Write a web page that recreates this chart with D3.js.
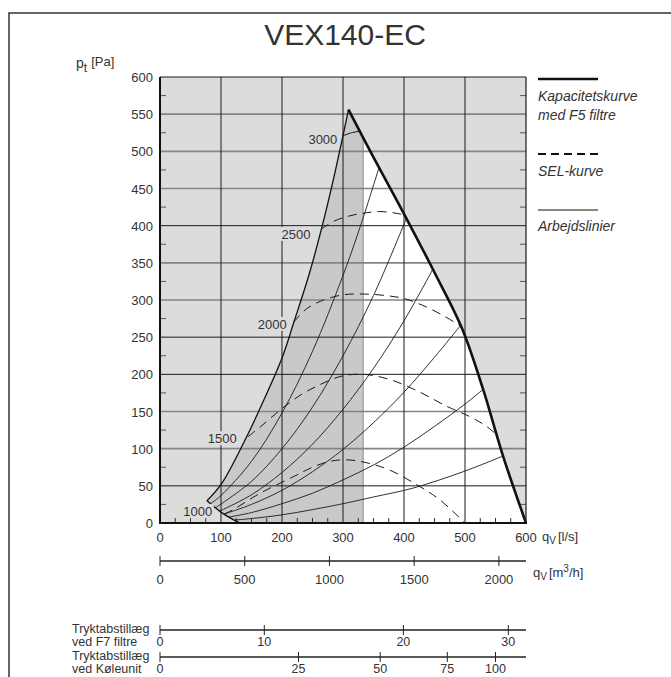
<!DOCTYPE html>
<html><head><meta charset="utf-8">
<script src="https://cdn.jsdelivr.net/npm/d3@7"></script>
<style>
body{margin:0;background:#fff}
svg{display:block}
text{font-family:"Liberation Sans",Arial,Helvetica,sans-serif;fill:#333}
</style>
</head><body>
<svg id="c" width="671" height="677"></svg>
<script>
// ---------- DATA ----------
const title = "VEX140-EC";
const flowTicks = [0, 100, 200, 300, 400, 500, 600];            // l/s
const pressureTicks = [0, 50, 100, 150, 200, 250, 300, 350, 400, 450, 500, 550, 600]; // Pa
const m3hTicks = [0, 500, 1000, 1500, 2000];                      // m3/h
const f7Labels = [0, 10, 20, 30];                                 // Pa extra
const f7Flow = [0, 171, 399, 571];                                // l/s where reached
const koelLabels = [0, 25, 50, 75, 100];
const koelFlow = [0, 227, 361, 471, 550];
const speedLabels = ["1000", "1500", "2000", "2500", "3000"];
const speedLabelAt = [[62, 16], [102, 114], [184, 268], [223, 389], [267, 517]]; // (l/s, Pa)
const shadeLimit = 333; // l/s

// capacity curve with F5 filters (bold)
const capacityCurve = [[309,556],[350,492],[400,416],[450,337],[495,262],[530,179],[562,91],[600,0]];
// left envelope (max pressure limit)
const envelope = [[77,30],[101,53],[142,116],[170,165],[201,224],[219,269],[245,336],[267,403],[285,465],[300,521],[309,556]];
// 1000 rpm curve
const minSpeedCurve = [[77,30],[90,21],[101,14],[115,7],[131,0]];
// 3000 rpm arc
const maxSpeedArc = [[300,521],[314,525],[328,527]];
// SEL curves (dashed)
const sel1 = [[264,395],[285,406],[310,413],[335,417],[360,419],[385,417],[403,414]];
const sel2 = [[219,270],[240,288],[265,299],[300,307],[335,308],[370,306],[400,302],[430,293],[460,281],[493,265]];
const sel3 = [[144,116],[164,129],[197,152],[230,172],[257,184],[295,197],[333,200],[377,193],[426,176],[470,157],[503,145],[530,133],[552,119]];
const sel4 = [[105,12],[120,18],[164,40],[218,62],[250,75],[279,83],[306,85],[339,81],[377,71],[426,49],[459,31],[500,0]];
// working lines (Arbejdslinier)
const wl1 = [[83,26],[100,37],[150,83],[200,148],[250,231],[300,333],[330,403],[359,478]];
const wl2 = [[92,21],[150,56],[200,100],[250,156],[300,225],[350,306],[404,410]];
const wl3 = [[98,16],[150,38],[200,68],[250,106],[300,153],[350,208],[400,272],[447,341]];
const wl4 = [[105,12],[150,25],[200,44],[250,69],[300,99],[350,135],[400,176],[450,223],[493,266]];
const wl5 = [[113,8],[150,14],[200,26],[250,40],[300,58],[350,78],[400,102],[450,130],[500,160],[530,180]];
const wl6 = [[122,4],[150,6],[200,11],[250,18],[306,27],[350,35],[415,47],[497,69],[562,90]];
const legendLabels = [["Kapacitetskurve","med F5 filtre"],["SEL-kurve"],["Arbejdslinier"]];

// ---------- DRAW ----------
const svg = d3.select("#c");
const x = d3.scaleLinear().domain([0, 600]).range([160, 526]);
const y = d3.scaleLinear().domain([0, 600]).range([523, 77]);
const xm = d3.scaleLinear().domain([0, 600 * 3.6]).range([160, 526]);
const grayGrid = new Set([550, 500, 450, 350, 300, 150, 100]);

const line = d3.line().x(d => x(d[0])).y(d => y(d[1])).curve(d3.curveCatmullRom.alpha(0.5));

// outer frame
svg.append("path").attr("d", "M9,677V13H671").attr("fill", "none").attr("stroke", "#333").attr("stroke-width", 1.5);

// title
svg.append("text").attr("x", 345).attr("y", 45).attr("text-anchor", "middle")
  .style("font-size", "30px").style("fill", "#333").text(title);

// plot background
svg.append("rect").attr("x", x(0)).attr("y", y(600)).attr("width", x(600) - x(0)).attr("height", y(0) - y(600))
  .attr("fill", "#dcdcdd");

// operating region
const region = line(envelope) + line(capacityCurve).replace("M", "L") +
  `L${x(600)},${y(0)}L${x(minSpeedCurve[minSpeedCurve.length - 1][0])},${y(0)}` +
  line(minSpeedCurve.slice().reverse()).replace("M", "L") + "Z";
svg.append("clipPath").attr("id", "reg").append("path").attr("d", region);
svg.append("path").attr("d", region).attr("fill", "#fff");
svg.append("rect").attr("clip-path", "url(#reg)")
  .attr("x", x(0)).attr("y", y(600)).attr("width", x(shadeLimit) - x(0)).attr("height", y(0) - y(600))
  .attr("fill", "#c9c9ca");
svg.append("line").attr("clip-path", "url(#reg)")
  .attr("x1", x(shadeLimit)).attr("x2", x(shadeLimit)).attr("y1", y(0)).attr("y2", y(600))
  .attr("stroke", "#888").attr("stroke-width", 1);

// grid
const grid = svg.append("g");
pressureTicks.filter(p => p > 0 && p < 600).forEach(p => {
  const g = grayGrid.has(p);
  grid.append("line").attr("x1", x(0)).attr("x2", x(600)).attr("y1", y(p)).attr("y2", y(p))
    .attr("stroke", g ? "#858585" : "#1a1a1a").attr("stroke-width", g ? 1.7 : 1);
});
flowTicks.filter(q => q > 0 && q < 600).forEach(q => {
  grid.append("line").attr("x1", x(q)).attr("x2", x(q)).attr("y1", y(0)).attr("y2", y(600))
    .attr("stroke", "#1a1a1a").attr("stroke-width", 1);
});
// minor ticks
d3.range(25, 600, 50).forEach(p => {
  grid.append("line").attr("x1", x(0)).attr("x2", x(0) + 6).attr("y1", y(p)).attr("y2", y(p)).attr("stroke", "#555");
  grid.append("line").attr("x1", x(600)).attr("x2", x(600) - 6).attr("y1", y(p)).attr("y2", y(p)).attr("stroke", "#555");
});
d3.range(25, 600, 25).filter(q => q % 100 !== 0).forEach(q => {
  grid.append("line").attr("x1", x(q)).attr("x2", x(q)).attr("y1", y(0)).attr("y2", y(0) - 5).attr("stroke", "#333");
});

// curves
const curves = svg.append("g").attr("fill", "none");
[wl1, wl2, wl3, wl4, wl5, wl6].forEach(w =>
  curves.append("path").attr("d", line(w)).attr("stroke", "#1a1a1a").attr("stroke-width", 0.9));
[sel1, sel2, sel3, sel4].forEach(s =>
  curves.append("path").attr("d", line(s)).attr("stroke", "#1a1a1a").attr("stroke-width", 1).attr("stroke-dasharray", "9,6"));
curves.append("path").attr("d", line(envelope)).attr("stroke", "#111").attr("stroke-width", 1.3);
curves.append("path").attr("d", line(minSpeedCurve)).attr("stroke", "#111").attr("stroke-width", 1.4);
curves.append("path").attr("d", line(maxSpeedArc)).attr("stroke", "#111").attr("stroke-width", 1);
curves.append("path").attr("d", line(capacityCurve)).attr("stroke", "#111").attr("stroke-width", 2.6);

// speed labels
speedLabels.forEach((s, i) => {
  const cx = x(speedLabelAt[i][0]), cy = y(speedLabelAt[i][1]);
  svg.append("rect").attr("x", cx - 16).attr("y", cy - 7).attr("width", 32).attr("height", 14).attr("fill", "#dcdcdd");
  svg.append("text").attr("x", cx).attr("y", cy + 5).attr("text-anchor", "middle").style("font-size", "13px").text(s);
});

// frame of plot
svg.append("line").attr("x1", x(0)).attr("x2", x(600)).attr("y1", y(600)).attr("y2", y(600)).attr("stroke", "#1a1a1a").attr("stroke-width", 1);
svg.append("line").attr("x1", x(600)).attr("x2", x(600)).attr("y1", y(600)).attr("y2", y(0)).attr("stroke", "#1a1a1a").attr("stroke-width", 1.2);
svg.append("line").attr("x1", x(0)).attr("x2", x(0)).attr("y1", y(600)).attr("y2", y(0) + 1).attr("stroke", "#111").attr("stroke-width", 2);
svg.append("line").attr("x1", x(0) - 1).attr("x2", x(600) + 1).attr("y1", y(0)).attr("y2", y(0)).attr("stroke", "#111").attr("stroke-width", 2);

// y tick labels
pressureTicks.forEach(p => {
  svg.append("text").attr("x", 153).attr("y", y(p) + 5).attr("text-anchor", "end").style("font-size", "13px").text(p);
});
// y axis title
const yt = svg.append("text").attr("x", 76).attr("y", 68).style("font-size", "14px");
yt.append("tspan").text("p");
yt.append("tspan").attr("dy", 4).style("font-size", "12px").text("t");
yt.append("tspan").attr("dx", 4).attr("dy", -6).style("font-size", "13px").text("[Pa]");

// x tick labels (l/s)
flowTicks.forEach(q => {
  svg.append("text").attr("x", x(q)).attr("y", 542).attr("text-anchor", "middle").style("font-size", "13px").text(q);
});
const xt = svg.append("text").attr("x", 542).attr("y", 541).style("font-size", "13px");
xt.append("tspan").text("q");
xt.append("tspan").attr("dy", 3).style("font-size", "10px").text("V");
xt.append("tspan").attr("dx", 2).attr("dy", -3).text("[l/s]");

// m3/h axis
const axY = 561;
svg.append("line").attr("x1", xm(0)).attr("x2", x(600)).attr("y1", axY).attr("y2", axY).attr("stroke", "#222").attr("stroke-width", 1.5);
m3hTicks.forEach(v => {
  svg.append("line").attr("x1", xm(v)).attr("x2", xm(v)).attr("y1", axY - 5).attr("y2", axY + 5).attr("stroke", "#222");
  svg.append("text").attr("x", xm(v)).attr("y", 584).attr("text-anchor", "middle").style("font-size", "13px").text(v);
});
const mt = svg.append("text").attr("x", 533).attr("y", 577).style("font-size", "13px");
mt.append("tspan").text("q");
mt.append("tspan").attr("dy", 3).style("font-size", "10px").text("V");
mt.append("tspan").attr("dx", 2).attr("dy", -3).text("[m");
mt.append("tspan").attr("dy", -5).style("font-size", "10px").text("3");
mt.append("tspan").attr("dy", 5).text("/h]");

// pressure-drop addition axes
function dropAxis(yLine, flows, labels, t1, t2) {
  svg.append("line").attr("x1", x(0)).attr("x2", x(600)).attr("y1", yLine).attr("y2", yLine).attr("stroke", "#222").attr("stroke-width", 1.5);
  flows.forEach((q, i) => {
    svg.append("line").attr("x1", x(q)).attr("x2", x(q)).attr("y1", yLine - 5).attr("y2", yLine + 5).attr("stroke", "#222");
    svg.append("text").attr("x", x(q)).attr("y", yLine + 16).attr("text-anchor", "middle").style("font-size", "12.5px").text(labels[i]);
  });
  svg.append("text").attr("x", 72).attr("y", yLine + 3).style("font-size", "12.5px").text(t1);
  svg.append("text").attr("x", 72).attr("y", yLine + 16).style("font-size", "12.5px").text(t2);
}
dropAxis(630, f7Flow, f7Labels, "Tryktabstillæg", "ved F7 filtre");
dropAxis(657, koelFlow, koelLabels, "Tryktabstillæg", "ved Køleunit");

// legend
const lx = 538;
svg.append("line").attr("x1", lx).attr("x2", lx + 60).attr("y1", 79).attr("y2", 79).attr("stroke", "#111").attr("stroke-width", 2.6);
svg.append("text").attr("x", lx).attr("y", 101).style("font-size", "14px").style("font-style", "italic").text(legendLabels[0][0]);
svg.append("text").attr("x", lx).attr("y", 120).style("font-size", "14px").style("font-style", "italic").text(legendLabels[0][1]);
svg.append("line").attr("x1", lx).attr("x2", lx + 60).attr("y1", 154).attr("y2", 154).attr("stroke", "#111").attr("stroke-width", 2.2).attr("stroke-dasharray", "8,5");
svg.append("text").attr("x", lx).attr("y", 176).style("font-size", "14px").style("font-style", "italic").text(legendLabels[1][0]);
svg.append("line").attr("x1", lx).attr("x2", lx + 60).attr("y1", 210).attr("y2", 210).attr("stroke", "#111").attr("stroke-width", 1);
svg.append("text").attr("x", lx).attr("y", 231).style("font-size", "14px").style("font-style", "italic").text(legendLabels[2][0]);
</script>
</body></html>
